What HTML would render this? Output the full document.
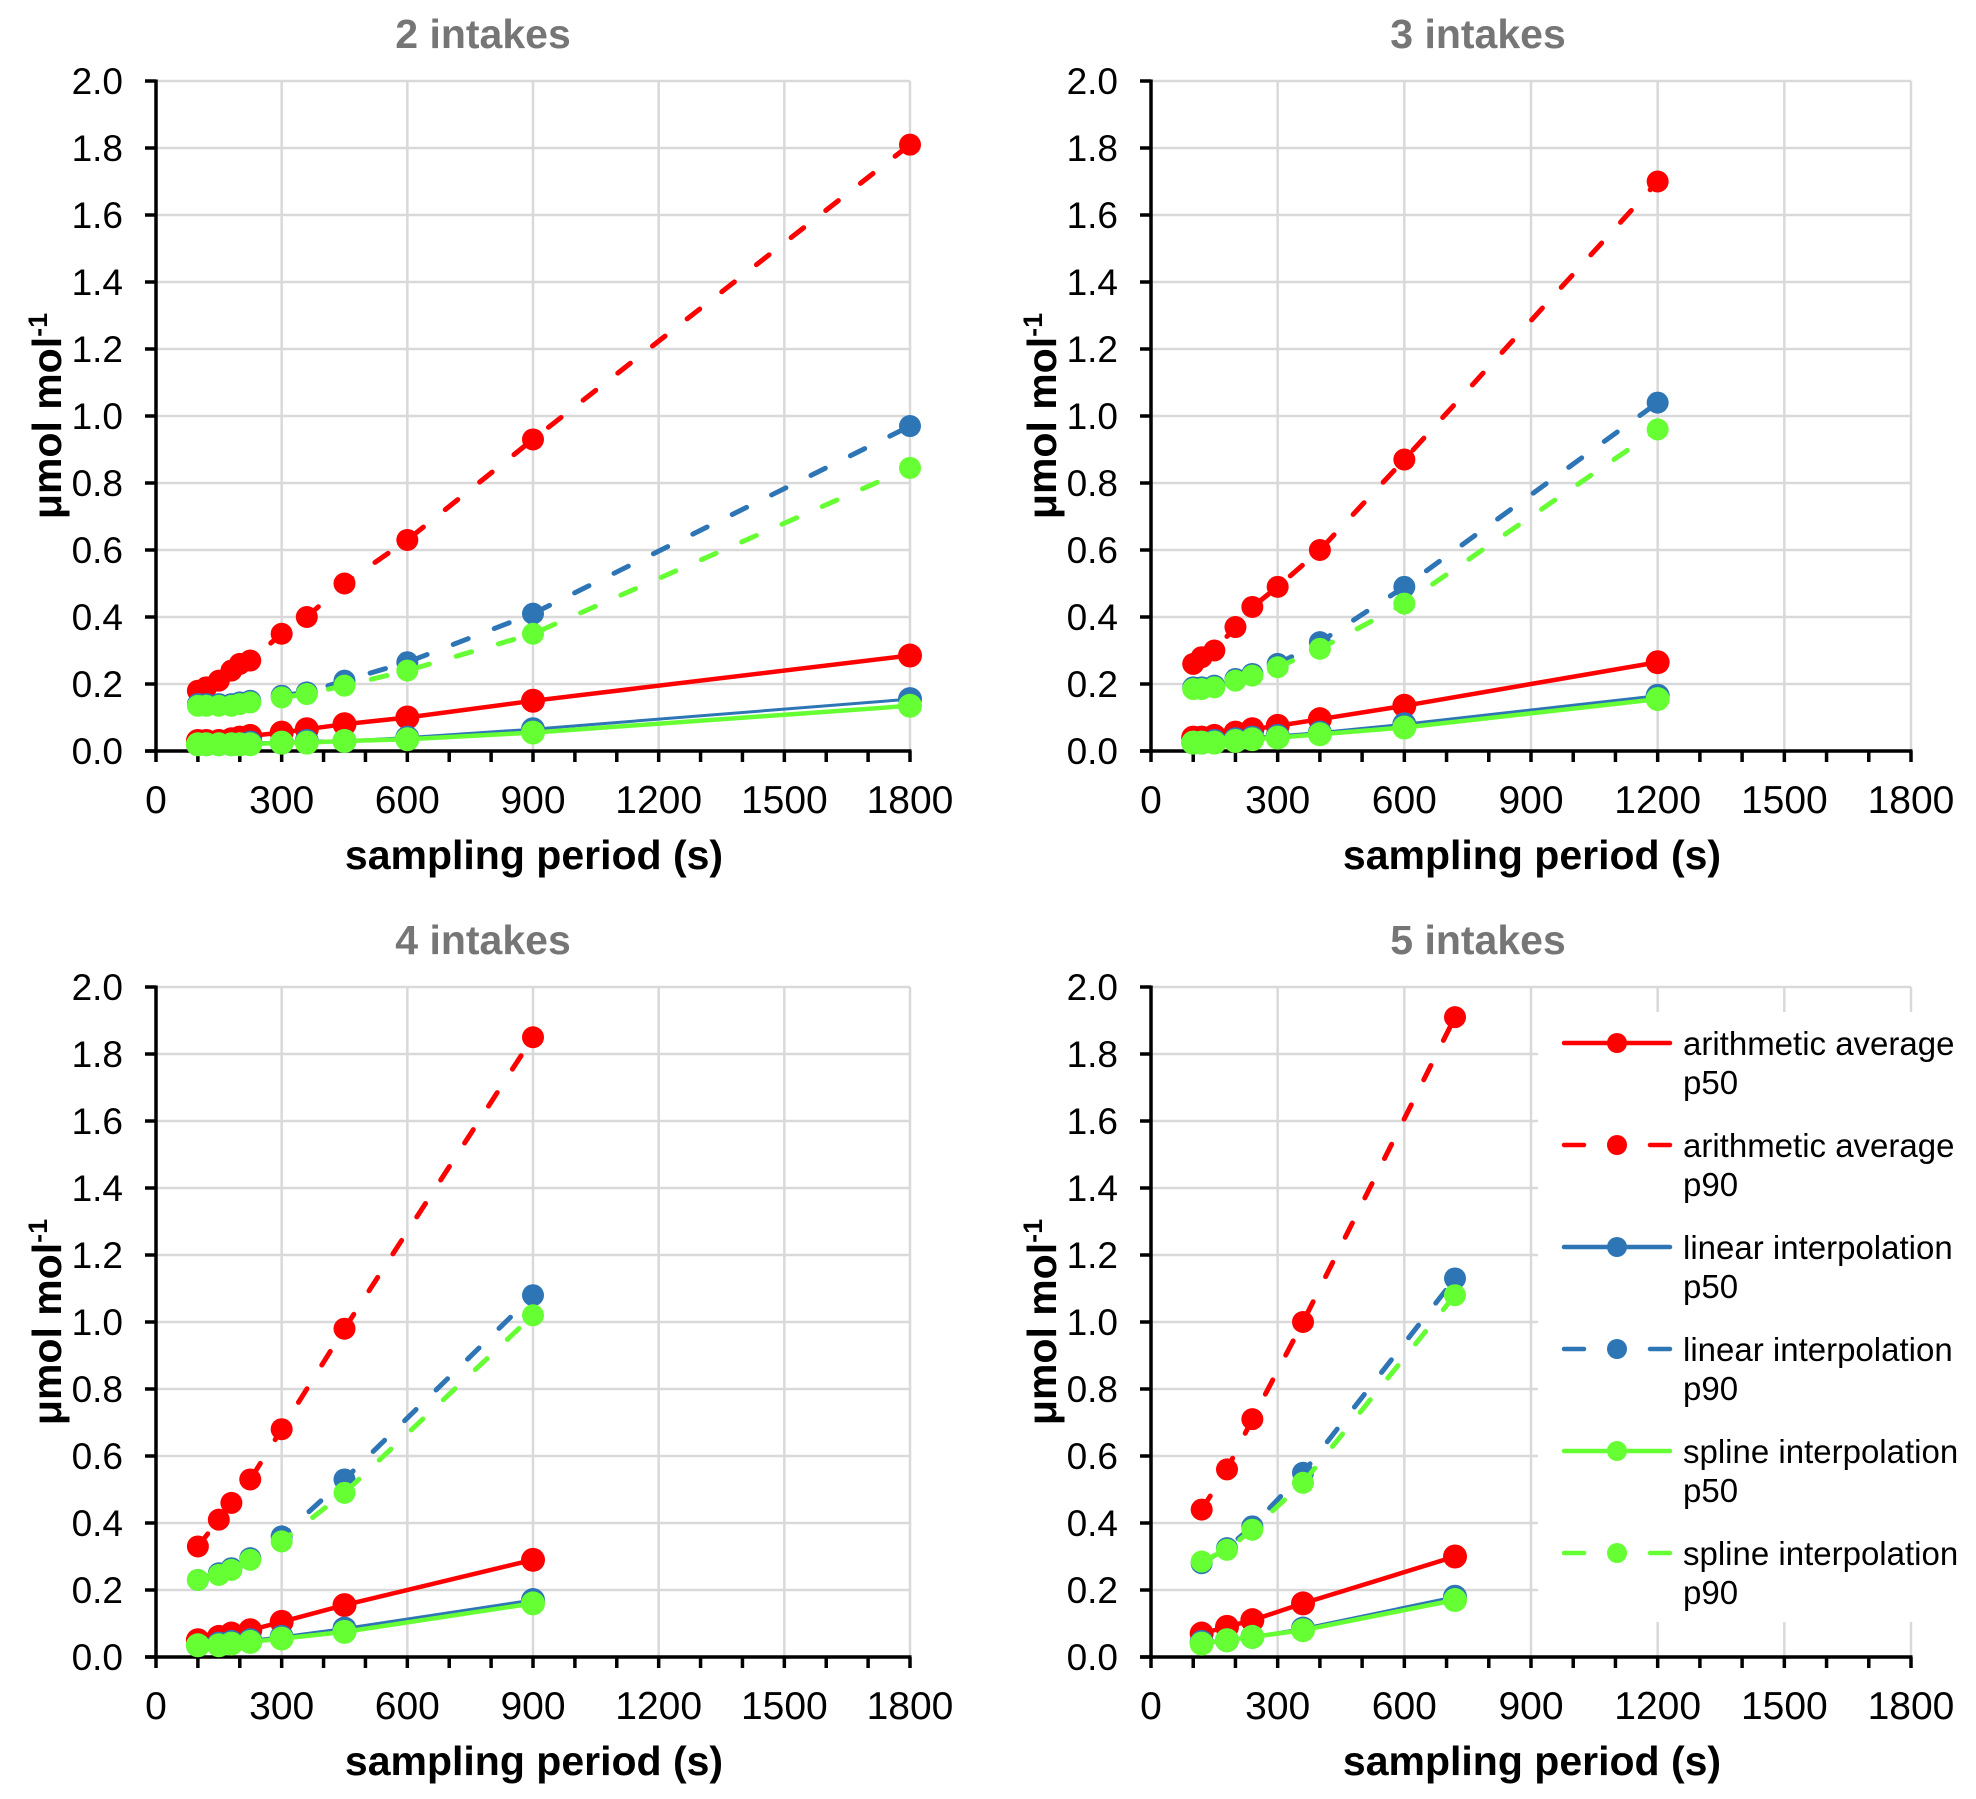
<!DOCTYPE html>
<html><head><meta charset="utf-8"><style>
html,body{margin:0;padding:0;background:#fff;}
svg{display:block;font-family:"Liberation Sans",Arial,sans-serif;}
</style></head><body>
<svg id="chart" width="1976" height="1799" viewBox="0 0 1976 1799" xmlns="http://www.w3.org/2000/svg"></svg>
<script>
// ---- data ----
const panelTitles = ["2 intakes", "3 intakes", "4 intakes", "5 intakes"];
const xTicks = [0, 300, 600, 900, 1200, 1500, 1800];
const yTicks = [0, 0.2, 0.4, 0.6, 0.8, 1.0, 1.2, 1.4, 1.6, 1.8, 2.0];
const seriesNames = ["arithmetic average p50", "arithmetic average p90", "linear interpolation p50", "linear interpolation p90", "spline interpolation p50", "spline interpolation p90"];

const x2 = [100, 120, 150, 180, 200, 225, 300, 360, 450, 600, 900, 1800];
const arith90_2 = [0.18, 0.19, 0.21, 0.24, 0.26, 0.27, 0.35, 0.40, 0.50, 0.63, 0.93, 1.81];
const arith50_2 = [0.03, 0.03, 0.03, 0.035, 0.04, 0.045, 0.055, 0.065, 0.08, 0.10, 0.15, 0.285];
const lin90_2 = [0.14, 0.14, 0.14, 0.14, 0.145, 0.15, 0.165, 0.175, 0.21, 0.265, 0.41, 0.97];
const lin50_2 = [0.02, 0.02, 0.02, 0.02, 0.02, 0.025, 0.025, 0.03, 0.03, 0.04, 0.065, 0.155];
const spl90_2 = [0.135, 0.135, 0.135, 0.135, 0.14, 0.145, 0.16, 0.17, 0.195, 0.24, 0.35, 0.845];
const spl50_2 = [0.02, 0.02, 0.02, 0.02, 0.02, 0.02, 0.025, 0.025, 0.03, 0.035, 0.055, 0.135];

const x3 = [100, 120, 150, 200, 240, 300, 400, 600, 1200];
const arith90_3 = [0.26, 0.28, 0.30, 0.37, 0.43, 0.49, 0.60, 0.87, 1.70];
const arith50_3 = [0.04, 0.04, 0.045, 0.055, 0.065, 0.075, 0.095, 0.135, 0.265];
const lin90_3 = [0.19, 0.19, 0.195, 0.215, 0.23, 0.26, 0.325, 0.49, 1.04];
const lin50_3 = [0.025, 0.025, 0.03, 0.035, 0.04, 0.045, 0.055, 0.08, 0.165];
const spl90_3 = [0.185, 0.185, 0.19, 0.21, 0.225, 0.25, 0.305, 0.44, 0.96];
const spl50_3 = [0.025, 0.025, 0.025, 0.03, 0.035, 0.04, 0.05, 0.07, 0.155];

const x4 = [100, 150, 180, 225, 300, 450, 900];
const arith90_4 = [0.33, 0.41, 0.46, 0.53, 0.68, 0.98, 1.85];
const arith50_4 = [0.05, 0.06, 0.07, 0.08, 0.105, 0.155, 0.29];
const lin90_4 = [0.23, 0.25, 0.265, 0.295, 0.36, 0.53, 1.08];
const lin50_4 = [0.035, 0.04, 0.045, 0.05, 0.06, 0.085, 0.17];
const spl90_4 = [0.23, 0.245, 0.26, 0.29, 0.345, 0.49, 1.02];
const spl50_4 = [0.035, 0.035, 0.04, 0.045, 0.055, 0.075, 0.16];

const x5 = [120, 180, 240, 360, 720];
const arith90_5 = [0.44, 0.56, 0.71, 1.00, 1.91];
const arith50_5 = [0.07, 0.09, 0.11, 0.16, 0.30];
const lin90_5 = [0.28, 0.325, 0.39, 0.55, 1.13];
const lin50_5 = [0.045, 0.05, 0.06, 0.085, 0.18];
const spl90_5 = [0.285, 0.32, 0.38, 0.52, 1.08];
const spl50_5 = [0.04, 0.05, 0.06, 0.08, 0.17];

const panelX = [x2, x3, x4, x5];
const panelSeries = [
  [arith90_2, lin90_2, spl90_2, arith50_2, lin50_2, spl50_2],
  [arith90_3, lin90_3, spl90_3, arith50_3, lin50_3, spl50_3],
  [arith90_4, lin90_4, spl90_4, arith50_4, lin50_4, spl50_4],
  [arith90_5, lin90_5, spl90_5, arith50_5, lin50_5, spl50_5]
];

// ---- drawing ----
const NS = "http://www.w3.org/2000/svg";
const svg = document.getElementById("chart");
function mk(tag, attrs, parent) {
  const e = document.createElementNS(NS, tag);
  for (const k in attrs) e.setAttribute(k, attrs[k]);
  (parent || svg).appendChild(e);
  return e;
}
const styles = [
  {c: "#ff0000", dash: true, w: 5, key: "arith-p90"},
  {c: "#2e75b6", dash: true, w: 5, key: "linear-p90"},
  {c: "#66ff33", dash: true, w: 5, key: "spline-p90"},
  {c: "#ff0000", dash: false, w: 4.5, key: "arith-p50"},
  {c: "#2e75b6", dash: false, w: 3, key: "linear-p50"},
  {c: "#66ff33", dash: false, w: 4.5, key: "spline-p50"}
];
const origins = [[156, 81, 754], [1151, 81, 760], [156, 987, 754], [1151, 987, 760]];
const H = 670;

origins.forEach((o, p) => {
  const [ox, oy, W] = o;
  const g = mk("g", {});
  
  
  const sx = v => ox + v / 1800 * W;
  const sy = v => oy + H - v / 2 * H;
  yTicks.forEach(t => {
    if (t === 0) return;
    const l = mk("line", {x1: ox, x2: ox + W, y1: sy(t), y2: sy(t), stroke: "#d9d9d9", "stroke-width": 2.5}, g);
    
    
  });
  xTicks.forEach(t => {
    if (t === 0) return;
    const l = mk("line", {x1: sx(t), x2: sx(t), y1: oy, y2: oy + H, stroke: "#d9d9d9", "stroke-width": 2.5}, g);
    
    
  });
  const ya = mk("line", {x1: ox, x2: ox, y1: oy - 1.5, y2: oy + H + 1.5, stroke: "#000", "stroke-width": 3.5}, g);
  
  
  const xa = mk("line", {x1: ox - 11, x2: ox + W + 1.5, y1: oy + H, y2: oy + H, stroke: "#000", "stroke-width": 3.5}, g);
  
  
  yTicks.forEach(t => {
    mk("line", {x1: ox - 11, x2: ox, y1: sy(t), y2: sy(t), stroke: "#000", "stroke-width": 3.5}, g);
    const tx = mk("text", {x: ox - 33, y: sy(t) + 13, "font-size": 37, "text-anchor": "end", fill: "#000"}, g);
    tx.textContent = t.toFixed(1);
    
    
  });
  for (let v = 0; v <= 1800; v += 100) {
    mk("line", {x1: sx(v), x2: sx(v), y1: oy + H, y2: oy + H + 11, stroke: "#000", "stroke-width": 3.5}, g);
  }
  xTicks.forEach(t => {
    const tx = mk("text", {x: sx(t), y: oy + H + 62, "font-size": 39, "text-anchor": "middle", fill: "#000"}, g);
    tx.textContent = t;
    
    
  });
  const ti = mk("text", {x: ox + 327, y: oy - 33, "font-size": 41, "font-weight": "bold", "text-anchor": "middle", fill: "#767676"}, g);
  ti.textContent = panelTitles[p];
  
  
  const xt = mk("text", {x: ox + W / 2 + 1, y: oy + H + 118, "font-size": 41, "font-weight": "bold", "text-anchor": "middle", fill: "#000"}, g);
  xt.textContent = "sampling period (s)";
  
  
  const yt = mk("text", {x: 0, y: 0, "font-size": 41, "font-weight": "bold", "text-anchor": "middle", fill: "#000", transform: "translate(" + (ox - 95) + "," + (oy + H / 2) + ") rotate(-90)"}, g);
  yt.innerHTML = 'μmol mol<tspan dy="-14" font-size="27">-1</tspan>';
  
  
  const xs = panelX[p];
  panelSeries[p].forEach((vals, si) => {
    const st = styles[si];
    const sg = mk("g", {}, g);
    
    
    const pts = vals.map((v, i) => sx(xs[i]).toFixed(1) + "," + sy(v).toFixed(1)).join(" ");
    const attrs = {points: pts, fill: "none", stroke: st.c, "stroke-width": st.w, "stroke-linejoin": "round", "stroke-linecap": "round"};
    if (st.dash) attrs["stroke-dasharray"] = "16 28";
    const pl = mk("polyline", attrs, sg);
    
    
    vals.forEach((v, i) => {
      const c = mk("circle", {cx: sx(xs[i]), cy: sy(v), r: st.dash ? 11 : 12, fill: st.c}, sg);
      
      
    });
  });
});

const lg = mk("g", {});


mk("rect", {x: 1538, y: 1012, width: 438, height: 610, fill: "#fff"}, lg);
const legStyles = [styles[3], styles[0], styles[4], styles[1], styles[5], styles[2]];
seriesNames.forEach((name, i) => {
  const st = legStyles[i];
  const y = 1043 + i * 102;
  const eg = mk("g", {}, lg);
  
  
  const la = {x1: 1564, x2: 1670, y1: y, y2: y, stroke: st.c, "stroke-width": 4.5, "stroke-linecap": "round"};
  if (st.dash) la["stroke-dasharray"] = "20 66";
  mk("line", la, eg);
  mk("circle", {cx: 1617, cy: y, r: 10, fill: st.c}, eg);
  const parts = name.split(" ");
  const t1 = mk("text", {x: 1683, y: y + 12, "font-size": 33, fill: "#000"}, eg);
  t1.textContent = parts.slice(0, 2).join(" ");
  
  
  const t2 = mk("text", {x: 1683, y: y + 51, "font-size": 33, fill: "#000"}, eg);
  t2.textContent = parts[2];
  
  
});
</script>
</body></html>
